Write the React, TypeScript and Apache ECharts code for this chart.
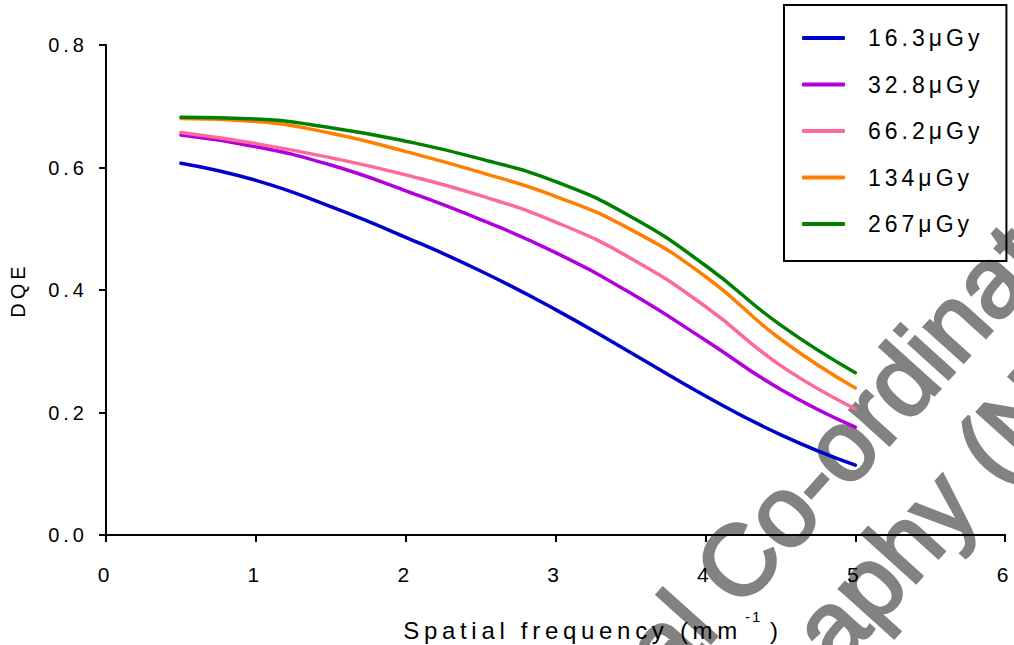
import React, { useEffect, useRef } from "react";
import * as echarts from "echarts";

const freq = [0.5, 1, 1.5, 2, 2.5, 3, 3.5, 4, 4.5, 5];
const dqe163 = [0.607, 0.579, 0.536, 0.486, 0.431, 0.368, 0.298, 0.227, 0.164, 0.114];
const dqe328 = [0.653, 0.634, 0.604, 0.562, 0.515, 0.461, 0.395, 0.318, 0.238, 0.176];
const dqe662 = [0.657, 0.639, 0.616, 0.588, 0.554, 0.511, 0.452, 0.373, 0.277, 0.206];
const dqe134 = [0.68, 0.675, 0.656, 0.626, 0.592, 0.553, 0.499, 0.422, 0.32, 0.24];
const dqe267 = [0.682, 0.679, 0.665, 0.643, 0.614, 0.577, 0.52, 0.44, 0.343, 0.265];

const seriesNames = ["16.3\u03bcGy", "32.8\u03bcGy", "66.2\u03bcGy", "134\u03bcGy", "267\u03bcGy"];
const seriesColors = ["#0000CC", "#B200DD", "#FB6A9A", "#FF8000", "#008000"];
const seriesValues = [dqe163, dqe328, dqe662, dqe134, dqe267];

const xTitle = "Spatial frequency (mm";
const xTitleSup = "-1";
const xTitleEnd = ")";
const yTitle = "DQE";
const watermark1 = "al Co-ordinat";
const watermark2 = "aphy (N";

const FONT = "Liberation Sans";

const css = `
.dqe-chart text[style*="20px"] { letter-spacing: 4px; }
.dqe-chart text[style*="21px"] { letter-spacing: 5px; }
.dqe-chart text[style*="23px"] { letter-spacing: 4px; }
.dqe-chart text[style*="24px"] { letter-spacing: 4.7px; }
.dqe-chart text[style*="15px"] { letter-spacing: 2px; }
`;

export default function App() {
  const ref = useRef<HTMLDivElement>(null);
  useEffect(() => {
    if (!ref.current) return;
    const chart = echarts.init(ref.current, null, { renderer: "svg" });
    const rot = (48 * Math.PI) / 180;
    const wmStyle = {
      fontSize: 100,
      fontFamily: FONT,
      fill: "#828282",
      stroke: "#828282",
      lineWidth: 3,
      textAlign: "left",
      align: "left",
      textVerticalAlign: "middle",
      verticalAlign: "middle",
    };
    chart.setOption({
      animation: false,
      grid: { left: 105, right: 7, top: 45, bottom: 110, containLabel: false },
      legend: {
        orient: "vertical",
        left: 784,
        top: 5,
        padding: [21.5, 51, 25.5, 18],
        borderColor: "#000",
        borderWidth: 2,
        itemWidth: 43,
        itemHeight: 4,
        itemGap: 23.5,
        icon: "roundRect",
        data: seriesNames,
        textStyle: { fontSize: 23, fontFamily: FONT, color: "#000", padding: [0, 0, 0, 18] },
      },
      xAxis: {
        type: "value",
        min: 0,
        max: 6,
        interval: 1,
        axisLine: { lineStyle: { color: "#000", width: 2 } },
        axisTick: { length: 7, lineStyle: { color: "#000", width: 2 } },
        axisLabel: { fontSize: 21, fontFamily: FONT, color: "#000", margin: 29 },
        splitLine: { show: false },
      },
      yAxis: {
        type: "value",
        min: 0,
        max: 0.8,
        interval: 0.2,
        name: yTitle,
        nameLocation: "middle",
        nameGap: 78,
        nameTextStyle: { fontSize: 20, fontFamily: FONT, color: "#000" },
        axisLine: { show: true, lineStyle: { color: "#000", width: 2 } },
        axisTick: { show: true, length: 7, lineStyle: { color: "#000", width: 2 } },
        axisLabel: {
          fontSize: 20,
          fontFamily: FONT,
          color: "#000",
          margin: 18,
          formatter: (v: number) => v.toFixed(1),
        },
        splitLine: { show: false },
      },
      series: seriesNames.map((name, i) => ({
        name,
        type: "line",
        data: freq.map((x, j) => [x, seriesValues[i][j]]),
        smooth: 0.5,
        showSymbol: false,
        symbol: "none",
        color: seriesColors[i],
        lineStyle: { width: 3.5, color: seriesColors[i], cap: "round" },
      })),
      graphic: [
        {
          type: "text",
          x: 742,
          y: 630,
          style: {
            text: xTitle,
            fontSize: 24,
            fontFamily: FONT,
            fill: "#000",
            textAlign: "right",
            align: "right",
            textVerticalAlign: "middle",
            verticalAlign: "middle",
          },
        },
        {
          type: "text",
          x: 745,
          y: 616,
          style: {
            text: xTitleSup,
            fontSize: 15,
            fontFamily: FONT,
            fill: "#000",
            textAlign: "left",
            align: "left",
            textVerticalAlign: "middle",
            verticalAlign: "middle",
          },
        },
        {
          type: "text",
          x: 770,
          y: 630,
          style: {
            text: xTitleEnd,
            fontSize: 24,
            fontFamily: FONT,
            fill: "#000",
            textAlign: "left",
            align: "left",
            textVerticalAlign: "middle",
            verticalAlign: "middle",
          },
        },
        {
          type: "text",
          x: 643,
          y: 666,
          rotation: rot,
          z: -10,
          silent: true,
          style: { ...wmStyle, text: watermark1 },
        },
        {
          type: "text",
          x: 811,
          y: 647,
          rotation: rot,
          z: -10,
          silent: true,
          style: { ...wmStyle, text: watermark2 },
        },
      ],
    });
    return () => chart.dispose();
  }, []);
  return (
    <>
      <style>{css}</style>
      <div
        ref={ref}
        className="dqe-chart"
        style={{ position: "absolute", left: 0, top: 0, width: 1014, height: 645 }}
      />
    </>
  );
}
